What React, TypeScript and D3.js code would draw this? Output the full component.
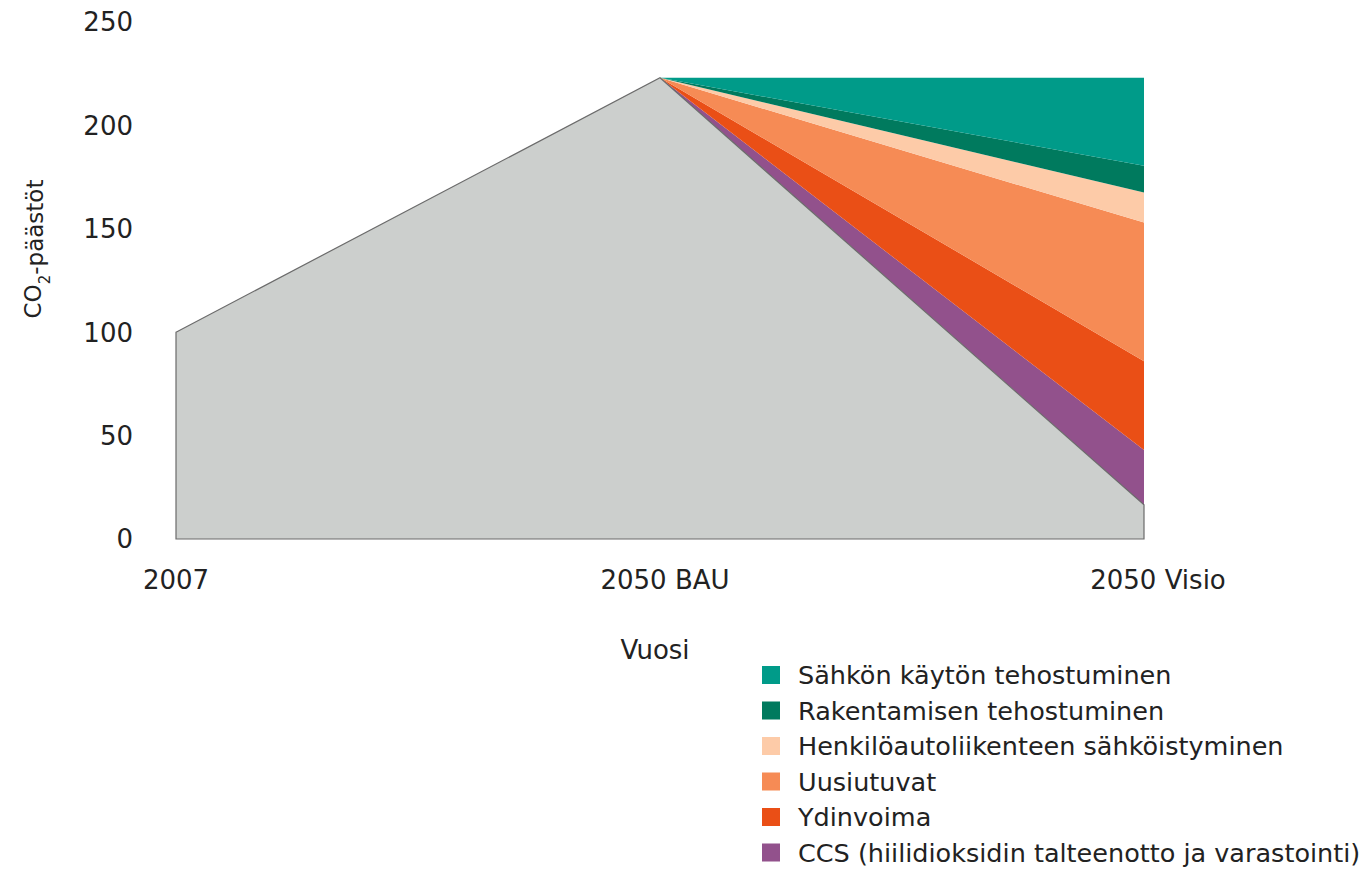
import React, { useEffect, useRef } from 'react';
import * as d3 from 'd3';

const categories = ['2007', '2050 BAU', '2050 Visio'];
// remaining emissions (grey area)
const baseValues = [100, 223, 16.5];

// reduction wedges, bottom to top, only from 2050 BAU to 2050 Visio
const seriesNames = [
  'CCS (hiilidioksidin talteenotto ja varastointi)',
  'Ydinvoima',
  'Uusiutuvat',
  'Henkilöautoliikenteen sähköistyminen',
  'Rakentamisen tehostuminen',
  'Sähkön käytön tehostuminen',
];
const seriesBau = [0, 0, 0, 0, 0, 0];
const seriesVisio = [26.5, 43, 67, 14.5, 13, 42.5];
const seriesColors = ['#92518c', '#ea4f16', '#f68b55', '#fdcba8', '#007a5e', '#009b89'];

const legendOrder = [5, 4, 3, 2, 1, 0];
const yTicks = [0, 50, 100, 150, 200, 250];

const W = 1361;
const H = 871;

const App: React.FC = () => {
  const svgRef = useRef<SVGSVGElement>(null);

  useEffect(() => {
    if (!svgRef.current) return;
    const svg = d3.select(svgRef.current);
    svg.selectAll('*').remove();

    const font = '"DejaVu Sans", sans-serif';
    const textColor = '#222';

    const x = d3.scalePoint<string>().domain(categories).range([176, 1144]);
    const y = d3.scaleLinear().domain([0, 250]).range([539, 22]);

    // stacked table for the reduction wedges
    const rows = [1, 2].map((ci) => {
      const row: any = { cat: categories[ci], base: baseValues[ci] };
      seriesNames.forEach((n, i) => {
        row[n] = ci === 1 ? seriesBau[i] : seriesVisio[i];
      });
      return row;
    });
    const stack = d3.stack<any>().keys(['base', ...seriesNames]);
    const stacked = stack(rows);

    const area = d3.area<any>()
      .x((d) => x(d.data.cat) as number)
      .y0((d) => y(d[0]))
      .y1((d) => y(d[1]));

    stacked.slice(1).forEach((s, i) => {
      svg.append('path')
        .datum(s)
        .attr('d', area)
        .attr('fill', seriesColors[i]);
    });

    // grey remaining emissions
    const baseData = categories.map((c, i) => ({ cat: c, v: baseValues[i] }));
    const baseArea = d3.area<any>()
      .x((d) => x(d.cat) as number)
      .y0(y(0))
      .y1((d) => y(d.v));
    svg.append('path')
      .datum(baseData)
      .attr('d', baseArea)
      .attr('fill', '#cccfcd')
      .attr('stroke', '#6b6b6b')
      .attr('stroke-width', 1.2);

    // y tick labels
    svg.append('g')
      .selectAll('text')
      .data(yTicks)
      .join('text')
      .attr('x', 133)
      .attr('y', (d) => y(d))
      .attr('dy', '0.36em')
      .attr('text-anchor', 'end')
      .attr('font-family', font)
      .attr('font-size', 26)
      .attr('fill', textColor)
      .text((d) => d);

    // x tick labels
    svg.append('g')
      .selectAll('text')
      .data(categories)
      .join('text')
      .attr('x', (d, i) => (x(d) as number) + [0, 5, 14][i])
      .attr('y', 580)
      .attr('dy', '0.36em')
      .attr('text-anchor', 'middle')
      .attr('font-family', font)
      .attr('font-size', 26)
      .attr('fill', textColor)
      .text((d) => d);

    // axis titles
    svg.append('text')
      .attr('x', 655)
      .attr('y', 650)
      .attr('dy', '0.36em')
      .attr('text-anchor', 'middle')
      .attr('font-family', font)
      .attr('font-size', 26)
      .attr('fill', textColor)
      .text('Vuosi');

    const yTitle = svg.append('text')
      .attr('transform', 'translate(33, 249) rotate(-90)')
      .attr('dy', '0.36em')
      .attr('text-anchor', 'middle')
      .attr('font-family', font)
      .attr('font-size', 23)
      .attr('fill', textColor);
    yTitle.append('tspan').text('CO');
    yTitle.append('tspan').attr('font-size', 15).attr('dy', '0.55em').text('2');
    yTitle.append('tspan').attr('dy', '-0.3em').text('-päästöt');

    // legend
    const legend = svg.append('g').attr('transform', 'translate(762, 675)');
    legendOrder.forEach((si, i) => {
      const g = legend.append('g').attr('transform', `translate(0, ${i * 35.5})`);
      g.append('rect')
        .attr('x', 0)
        .attr('y', -9)
        .attr('width', 18)
        .attr('height', 18)
        .attr('fill', seriesColors[si]);
      g.append('text')
        .attr('x', 36)
        .attr('y', 0)
        .attr('dy', '0.36em')
        .attr('font-family', font)
        .attr('font-size', 25.5)
        .attr('fill', textColor)
        .text(seriesNames[si]);
    });
  }, []);

  return (
    <svg
      ref={svgRef}
      width={W}
      height={H}
      style={{ position: 'absolute', left: 0, top: 0, background: '#fff' }}
    />
  );
};

export default App;
